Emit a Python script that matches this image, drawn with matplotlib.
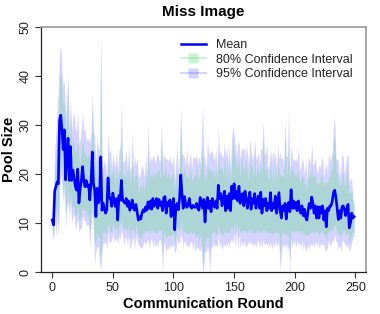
import numpy as np
import matplotlib
matplotlib.use("Agg")
import matplotlib.pyplot as plt
from matplotlib.lines import Line2D

plt.rcParams['font.family'] = ['Liberation Sans', 'DejaVu Sans']

title = "Miss Image"
xlabel = "Communication Round"
ylabel = "Pool Size"
legend_labels = ["Mean", "80% Confidence Interval", "95% Confidence Interval"]
xticks = [0, 50, 100, 150, 200, 250]
yticks = [0, 10, 20, 30, 40, 50]

mean = [
    10.6, 9.6, 16.5, 17.4, 18.4, 18.0, 31.0, 32.0, 29.0, 25.0,
    29.0, 18.8, 24.0, 27.3, 18.7, 25.6, 18.7, 20.8, 19.4, 17.5,
    16.7, 21.0, 14.1, 17.0, 18.7, 21.5, 18.7, 17.4, 18.7, 17.4,
    17.8, 14.7, 18.5, 24.5, 18.0, 16.7, 11.3, 17.1, 14.1, 15.0,
    23.5, 12.6, 14.0, 13.0, 12.0, 12.7, 19.2, 15.1, 15.1, 13.4,
    16.1, 14.5, 13.4, 15.0, 10.6, 15.6, 14.7, 18.7, 14.5, 14.5,
    14.0, 15.0, 13.4, 14.5, 12.6, 13.4, 14.7, 13.0, 12.6, 13.8,
    12.3, 10.6, 11.3, 10.8, 12.0, 12.7, 12.3, 13.3, 12.6, 14.3,
    13.0, 14.5, 12.8, 15.0, 13.4, 14.0, 15.0, 13.0, 14.8, 13.6,
    14.3, 12.5, 15.2, 15.4, 12.0, 14.2, 13.5, 14.7, 11.3, 14.0,
    15.0, 8.6, 13.5, 14.0, 12.7, 15.0, 19.8, 16.0, 13.0, 15.4,
    14.0, 13.2, 13.6, 15.0, 13.4, 13.0, 13.6, 13.3, 13.2, 14.0,
    13.0, 12.6, 15.2, 14.2, 13.0, 14.8, 10.2, 14.0, 15.2, 13.0,
    14.5, 12.3, 15.0, 14.0, 13.2, 14.5, 13.0, 17.7, 15.0, 16.0,
    13.5, 14.7, 16.5, 12.5, 15.5, 13.0, 16.0, 12.5, 17.5, 15.0,
    18.0, 15.0, 16.5, 14.5, 17.5, 14.0, 15.5, 16.0, 13.5, 16.5,
    15.0, 13.0, 14.8, 16.3, 12.8, 15.0, 14.0, 16.0, 13.0, 14.5,
    15.5, 13.0, 16.3, 12.0, 14.8, 13.5, 15.0, 12.5, 14.0, 13.0,
    16.2, 12.5, 14.0, 13.0, 15.5, 12.0, 14.2, 16.2, 12.5, 11.0,
    13.5, 12.5, 14.0, 10.8, 13.5, 14.2, 12.3, 16.8, 13.0, 14.5,
    13.0, 14.2, 12.5, 14.5, 13.0, 12.0, 13.5, 11.5, 12.8, 11.2,
    10.6, 12.5, 14.0, 13.0, 15.3, 14.0, 12.0, 13.5, 11.0, 13.3,
    11.0, 13.3, 12.0, 13.5, 10.6, 12.5, 9.2, 13.0, 12.5, 13.5,
    13.5, 14.5, 16.2, 16.7, 15.2, 13.0, 10.7, 12.5, 11.0, 13.3,
    13.5, 12.7, 11.5, 13.0, 13.8, 9.0, 10.0, 12.0, 11.0, 11.3,
]

# distance of the 80% band above / below the mean
up80 = [
    2, 3, 5, 6, 8, 10, 9, 8, 7, 9,
    6, 10, 7, 11, 6, 7, 5, 7, 6, 7,
    8, 6, 9, 5, 7, 5, 6, 7, 5, 6,
    6, 8, 5, 9, 7, 8, 6, 7, 8, 6,
    22, 7, 5, 6, 7, 5, 5, 6, 5, 6,
    5, 6, 4, 7, 8, 5, 6, 9, 5, 6,
    5, 7, 5, 8, 5, 6, 9, 5, 7, 6,
    8, 5, 6, 7, 5, 6, 4, 7, 5, 11,
    6, 5, 8, 4, 7, 6, 5, 8, 6, 5,
    13, 7, 5, 6, 8, 5, 7, 4, 8, 6,
    5, 8, 6, 7, 5, 6, 11, 5, 7, 6,
    5, 7, 6, 4, 8, 6, 5, 7, 6, 8,
    6, 7, 5, 8, 12, 6, 9, 5, 7, 8,
    6, 9, 5, 7, 6, 8, 5, 7, 6, 5,
    8, 5, 7, 6, 8, 5, 7, 6, 5, 12,
    6, 8, 5, 7, 6, 5, 8, 6, 7, 5,
    8, 6, 5, 7, 9, 6, 5, 8, 6, 7,
    5, 7, 6, 8, 13, 7, 6, 9, 5, 6,
    7, 6, 8, 5, 7, 6, 8, 5, 7, 9,
    6, 7, 14, 8, 7, 11, 6, 5, 8, 6,
    7, 5, 8, 6, 5, 7, 6, 8, 5, 7,
    6, 8, 5, 7, 6, 5, 8, 6, 7, 5,
    7, 6, 8, 5, 7, 6, 9, 5, 7, 6,
    8, 6, 11, 10, 6, 7, 8, 5, 7, 6,
    7, 5, 6, 8, 5, 7, 6, 5, 3, 2,
]
down80 = [
    2, 2, 4, 5, 5, 9, 12, 10, 8, 9,
    10, 7, 9, 10, 6, 9, 6, 7, 6, 6,
    5, 7, 4, 6, 7, 8, 6, 5, 6, 6,
    6, 7, 7, 9, 8, 11, 5, 9, 7, 8,
    22, 6, 5, 5, 4, 5, 9, 6, 7, 5,
    6, 5, 5, 6, 3, 6, 5, 8, 5, 6,
    5, 6, 5, 5, 6, 5, 6, 4, 5, 4,
    4, 3, 4, 4, 4, 5, 4, 5, 4, 6,
    5, 6, 4, 7, 5, 6, 7, 5, 6, 5,
    6, 9, 7, 8, 5, 7, 6, 7, 4, 6,
    7, 3, 6, 5, 4, 7, 9, 7, 5, 7,
    6, 5, 6, 7, 5, 5, 6, 5, 6, 7,
    5, 6, 8, 7, 11, 11, 4, 7, 8, 6,
    11, 5, 7, 6, 5, 7, 5, 8, 7, 8,
    6, 7, 8, 5, 7, 5, 8, 4, 8, 7,
    8, 7, 6, 7, 8, 6, 7, 8, 5, 8,
    7, 5, 6, 8, 4, 7, 6, 8, 5, 6,
    7, 5, 8, 4, 6, 5, 7, 4, 6, 5,
    8, 5, 6, 5, 7, 4, 6, 8, 9, 4,
    5, 5, 6, 3, 6, 7, 9, 8, 5, 6,
    5, 6, 4, 6, 5, 4, 5, 4, 5, 4,
    3, 5, 6, 5, 7, 6, 4, 5, 3, 5,
    4, 5, 4, 5, 3, 5, 3, 5, 4, 5,
    5, 6, 7, 7, 6, 5, 3, 5, 4, 5,
    5, 4, 4, 5, 6, 3, 3, 4, 3, 3,
]
# extra distance of the 95% band beyond the 80% band
up95_extra = [
    1, 2, 3, 5, 7, 9, 5, 6, 5, 4,
    4, 3, 5, 2, 4, 3, 5, 4, 7, 5,
    4, 6, 3, 5, 4, 6, 4, 5, 3, 4,
    3, 4, 5, 3, 4, 3, 5, 4, 3, 4,
    3, 3, 2, 4, 3, 2, 4, 3, 5, 2,
    3, 2, 4, 3, 2, 4, 5, 7, 3, 2,
    4, 3, 2, 4, 3, 2, 5, 3, 4, 2,
    3, 4, 2, 3, 5, 2, 3, 4, 2, 5,
    3, 4, 2, 5, 3, 2, 4, 3, 2, 4,
    3, 3, 4, 2, 3, 4, 2, 5, 3, 2,
    4, 2, 3, 5, 2, 3, 3, 3, 4, 2,
    3, 5, 2, 4, 3, 2, 5, 3, 4, 2,
    3, 4, 2, 5, 9, 3, 4, 2, 5, 3,
    4, 3, 5, 2, 4, 3, 2, 5, 3, 4,
    2, 4, 3, 5, 2, 4, 3, 2, 5, 3,
    4, 3, 2, 5, 3, 4, 2, 3, 5, 2,
    3, 5, 2, 4, 3, 2, 5, 3, 4, 2,
    4, 2, 3, 5, 3, 4, 3, 5, 2, 3,
    2, 4, 3, 5, 2, 3, 4, 2, 5, 3,
    4, 2, 3, 5, 3, 8, 2, 4, 3, 2,
    3, 4, 2, 5, 3, 2, 4, 3, 2, 5,
    2, 3, 4, 2, 5, 3, 2, 4, 3, 2,
    4, 2, 3, 5, 2, 3, 4, 2, 5, 3,
    2, 4, 3, 5, 2, 3, 4, 2, 3, 5,
    3, 2, 4, 3, 5, 2, 3, 2, 1, 1,
]
down95_extra = [
    1, 1, 2, 5, 2, 2, 2, 2, 3, 2,
    2, 3, 2, 3, 2, 2, 3, 2, 2, 3,
    2, 3, 2, 2, 3, 2, 2, 2, 3, 2,
    2, 3, 2, 3, 2, 4, 2, 3, 2, 5,
    3, 2, 3, 2, 2, 3, 2, 3, 2, 2,
    2, 3, 2, 2, 2, 2, 3, 2, 2, 3,
    2, 2, 3, 2, 2, 3, 2, 2, 3, 2,
    2, 2, 2, 2, 3, 2, 2, 3, 2, 2,
    3, 2, 2, 3, 2, 3, 2, 3, 2, 2,
    3, 4, 2, 2, 3, 2, 3, 2, 2, 3,
    2, 2, 3, 2, 3, 2, 3, 2, 3, 2,
    2, 3, 2, 3, 2, 2, 3, 2, 3, 2,
    3, 2, 3, 2, 3, 3, 2, 3, 2, 3,
    4, 2, 3, 2, 3, 2, 3, 2, 3, 2,
    3, 2, 3, 2, 3, 2, 3, 2, 3, 2,
    2, 3, 2, 3, 2, 3, 2, 3, 2, 3,
    3, 2, 3, 2, 3, 2, 3, 2, 3, 2,
    2, 3, 2, 3, 2, 3, 2, 3, 2, 3,
    2, 3, 2, 3, 2, 3, 2, 3, 4, 3,
    3, 2, 3, 2, 3, 2, 4, 2, 3, 2,
    2, 3, 2, 3, 2, 3, 2, 3, 2, 3,
    3, 2, 3, 2, 3, 2, 3, 2, 3, 2,
    2, 3, 2, 3, 2, 3, 2, 3, 2, 3,
    3, 2, 3, 2, 3, 2, 3, 2, 3, 2,
    2, 3, 2, 3, 2, 2, 2, 2, 1, 1,
]

rounds = np.arange(len(mean))
m = np.array(mean)
hi80 = m + np.array(up80)
lo80 = m - np.array(down80)
hi95 = hi80 + np.array(up95_extra)
lo95 = np.clip(lo80 - np.array(down95_extra), 0, None)
lo80 = np.clip(lo80, 0, None)

c95 = (0.0, 0.0, 1.0, 0.17)
c80 = (84/255, 217/255, 118/255, 0.3)

fig = plt.figure(figsize=(3.8, 3.14), dpi=100)
ax = fig.add_axes([41/380, 42/314, 325/380, 245/314])

ax.fill_between(rounds, lo95, hi95, color=c95, lw=0)
ax.fill_between(rounds, lo80, hi80, color=c80, lw=0)
ax.plot(rounds, m, color='#0000ff', lw=1.9)

ax.set_xlim(-9.3, 258.8)
ax.set_ylim(0, 50)
ax.set_xticks(xticks)
ax.set_yticks(yticks)
ax.set_yticklabels([str(v) for v in yticks], rotation=90, va='center')
ax.tick_params(axis='both', labelsize=9, length=4, width=0.8,
               colors='#333333', labelcolor='#222222', pad=3)
for s in ['left', 'bottom']:
    ax.spines[s].set_color('#222222')
    ax.spines[s].set_linewidth(0.9)
for s in ['top', 'right']:
    ax.spines[s].set_color('#999999')
    ax.spines[s].set_linewidth(1.2)

ax.set_title(title, fontsize=11, fontweight='bold', pad=8)
ax.set_xlabel(xlabel, fontsize=10.5, fontweight='bold', labelpad=2)
ax.set_ylabel(ylabel, fontsize=10.5, fontweight='bold', labelpad=2)

handles = [
    Line2D([0], [0], color='#0000ff', lw=1.8),
    Line2D([0], [0], color=c80, lw=1.5, marker='s', markersize=6.5,
           markerfacecolor=c80, markeredgecolor='none'),
    Line2D([0], [0], color=c95, lw=1.5, marker='s', markersize=6.5,
           markerfacecolor=c95, markeredgecolor='none'),
]
leg = ax.legend(handles, legend_labels, loc='upper left',
                bbox_to_anchor=(0.415, 0.97), frameon=False, fontsize=9,
                handlelength=2.0, handletextpad=0.8, labelspacing=0.2,
                borderaxespad=0.0)
for t in leg.get_texts():
    t.set_color('#222222')

fig.savefig("out.png", dpi=100)
